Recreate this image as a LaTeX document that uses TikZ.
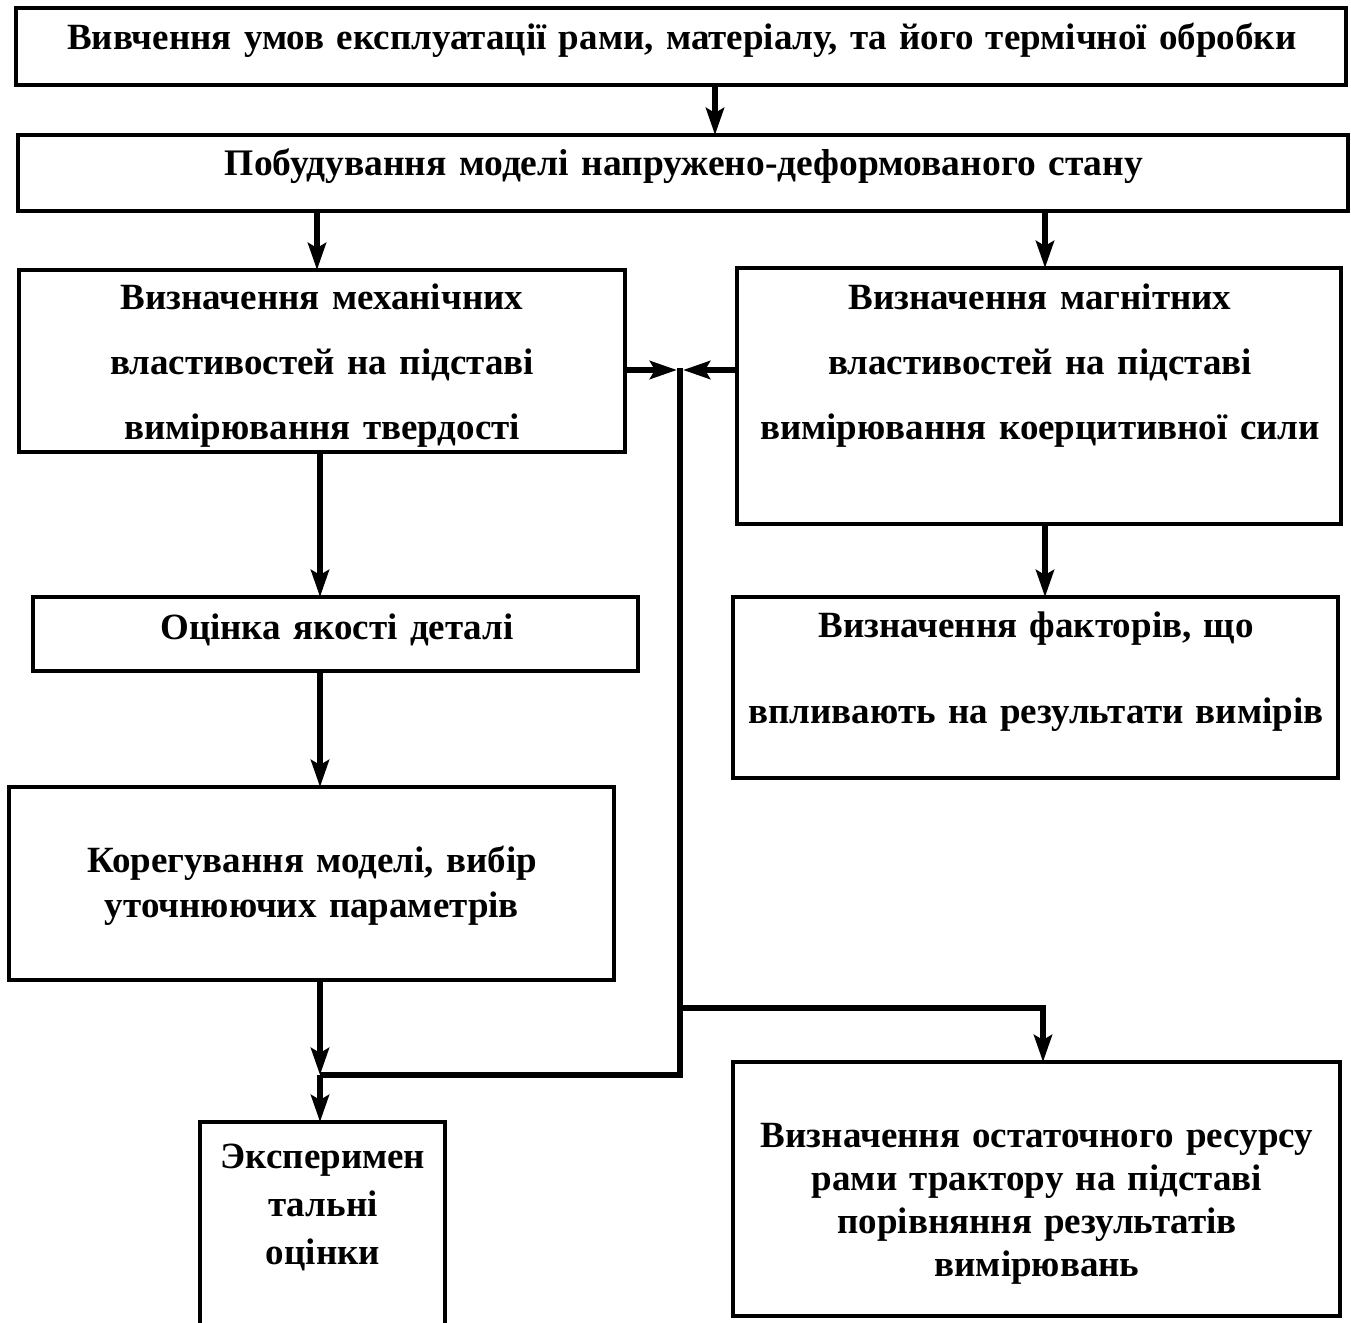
\documentclass[tikz,border=0pt]{standalone}
\usepackage{fontspec}
\setmainfont{Liberation Serif}
\usetikzlibrary{arrows.meta}
\begin{document}
\begin{tikzpicture}[x=1pt,y=-1pt,
  box/.style={draw=black, line width=4pt},
  conn/.style={line width=5.5pt, -{Stealth[length=27pt,width=18pt,inset=5pt]}},
  plain/.style={line width=5.5pt},
  txt/.style={anchor=base, align=center, inner sep=0pt, text width=#1},
  txt/.default=600pt]
\useasboundingbox (0,0) rectangle (1351,1322);
% boxes
\draw[box] (16,8) rectangle (1346,85);
\coordinate (b1s) at (715,85);
\draw[box] (18,135) rectangle (1348,211);
\coordinate (b2n) at (715,135);
\coordinate (b2l) at (317,211);
\coordinate (b2r) at (1045,211);
\draw[box] (19,270) rectangle (625,452);
\coordinate (b3n) at (317,270);
\coordinate (b3s) at (320,452);
\coordinate (b3e) at (625,370);
\draw[box] (737,268) rectangle (1341,524);
\coordinate (b4n) at (1045,268);
\coordinate (b4s) at (1045,524);
\coordinate (b4w) at (737,370);
\draw[box] (33,597) rectangle (638,671);
\coordinate (b5n) at (320,597);
\coordinate (b5s) at (320,671);
\draw[box] (733,597) rectangle (1338,778);
\coordinate (b6n) at (1045,597);
\draw[box] (9,787) rectangle (614,980);
\coordinate (b7n) at (320,787);
\coordinate (b7s) at (320,980);
\draw[box] (200,1330) -- (200,1122) -- (445,1122) -- (445,1330);
\coordinate (b8n) at (320,1122);
\draw[box] (733,1062) rectangle (1340,1316);
\coordinate (b9n) at (1043,1062);
% texts
\node[txt=1330pt, font=\fontsize{37}{40}\selectfont\bfseries] (t1) at (682,49)
  {Вивчення умов експлуатації рами, матеріалу, та його термічної обробки};
\node[txt=1330pt, font=\fontsize{37.5}{40}\selectfont\bfseries] (t2) at (684,175)
  {Побудування моделі напружено-деформованого стану};
\node[txt, font=\fontsize{37}{65}\selectfont\bfseries] (t3) at (322,309)
  {Визначення механічних\\властивостей на підставі\\вимірювання твердості};
\node[txt, font=\fontsize{37}{65}\selectfont\bfseries] (t4) at (1040,309)
  {Визначення магнітних\\властивостей на підставі\\вимірювання коерцитивної сили};
\node[txt, font=\fontsize{37}{45}\selectfont\bfseries] (t5) at (337,639)
  {Оцінка якості деталі};
\node[txt, font=\fontsize{37}{86}\selectfont\bfseries] (t6) at (1036,637)
  {Визначення факторів, що\\впливають на результати вимірів};
\node[txt, font=\fontsize{37}{45}\selectfont\bfseries] (t7) at (312,872)
  {Корегування моделі, вибір\\уточнюючих параметрів};
\node[txt, font=\fontsize{37}{48}\selectfont\bfseries] (t8) at (323,1168)
  {Эксперимен\\тальні\\оцінки};
\node[txt, font=\fontsize{37}{43}\selectfont\bfseries] (t9) at (1037,1147)
  {Визначення остаточного ресурсу\\рами трактору на підставі\\порівняння результатів\\вимірювань};
% connectors
\coordinate (J1) at (320,1075);
\coordinate (J2) at (680,1075);
\coordinate (Jtop) at (680,368);
\coordinate (Jmid) at (680,1008);
\coordinate (Jr) at (1043,1008);
\coordinate (inL) at (677,370);
\coordinate (inR) at (683,370);
\draw[conn] (b1s) -- (b2n);
\draw[conn] (b2l) -- (b3n);
\draw[conn] (b2r) -- (b4n);
\draw[conn] (b3s) -- (b5n);
\draw[conn] (b4s) -- (b6n);
\draw[conn] (b5s) -- (b7n);
\draw[conn] (b7s) -- (J1);
\draw[conn] (J1) -- (b8n);
\draw[plain] (J1) -- (J2) -- (Jtop);
\draw[conn] (b3e) -- (inL);
\draw[conn] (b4w) -- (inR);
\draw[conn] (Jmid) -- (Jr) -- (b9n);
\end{tikzpicture}
\end{document}
